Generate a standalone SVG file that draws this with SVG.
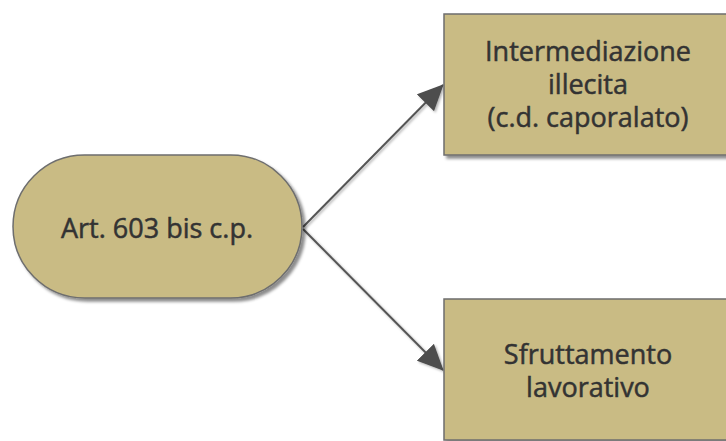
<svg xmlns="http://www.w3.org/2000/svg" width="726" height="441" viewBox="0 0 726 441">
<style>
.node{fill:#C9BB84;stroke:#6E6E6E;stroke-width:1.5;filter:url(#sh)}
.lbl{font-family:"Open Sans","Noto Sans","DejaVu Sans",sans-serif;font-size:27px;font-weight:400;fill:#333333;stroke:#333333;stroke-width:0.5;text-anchor:middle}
.edge{stroke:#555555;stroke-width:2;fill:none;marker-end:url(#ah);filter:url(#lsh)}
</style>
<defs>
<filter id="sh" x="-10%" y="-10%" width="130%" height="130%">
<feDropShadow dx="3" dy="3" stdDeviation="1.5" flood-color="#000" flood-opacity="0.45"/>
</filter>
<filter id="lsh" x="-10%" y="-10%" width="130%" height="130%">
<feDropShadow dx="1.5" dy="1.5" stdDeviation="1" flood-color="#000" flood-opacity="0.3"/>
</filter>
<marker id="ah" markerUnits="userSpaceOnUse" markerWidth="26" markerHeight="24" refX="25" refY="12" orient="auto" viewBox="0 0 26 24">
<path d="M0,0 L26,12 L0,24 z" fill="#4D4D4D"/>
</marker>
</defs>
<g id="connectors">
<line class="edge" x1="303" y1="227" x2="443" y2="85"/>
<line class="edge" x1="303" y1="229" x2="443" y2="370"/>
</g>
<g id="n1">
<rect class="node" x="13" y="155" width="289" height="143" rx="71.5" ry="71.5"/>
<text class="lbl" x="157" y="238">Art. 603 bis c.p.</text>
</g>
<g id="n2">
<rect class="node" x="444" y="14" width="290" height="141"/>
<text class="lbl" x="588" y="61">Intermediazione<tspan x="588" dy="33">illecita</tspan><tspan x="588" dy="33">(c.d. caporalato)</tspan></text>
</g>
<g id="n3">
<rect class="node" x="444" y="299" width="290" height="141"/>
<text class="lbl" x="588" y="364">Sfruttamento<tspan x="588" dy="33">lavorativo</tspan></text>
</g>
</svg>
